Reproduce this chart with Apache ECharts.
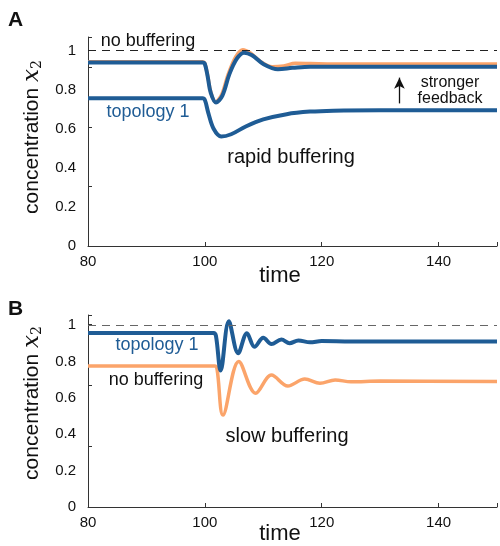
<!DOCTYPE html>
<html>
<head>
<meta charset="utf-8">
<script src="https://cdn.jsdelivr.net/npm/echarts@6/dist/echarts.min.js"></script>
<style>
  html, body { margin: 0; padding: 0; background: #fff; }
  #chart { width: 500px; height: 546px; }
</style>
</head>
<body>
<div id="chart"></div>
<script>
// panel A, rapid buffering: [time, x2]
const rapidNoBuffer = [[80,0.943],[99.6,0.943],[100,0.935],[100.5,0.87],[101,0.79],[101.8,0.738],[102.8,0.77],[104,0.88],[105.3,0.97],[106.5,1.005],[107.8,0.988],[109.5,0.945],[111.5,0.918],[113.5,0.922],[115.5,0.935],[118,0.934],[122,0.932],[130,0.932],[150,0.932]];
const rapidStrong = [[80,0.94],[99.6,0.94],[100,0.932],[100.5,0.865],[101,0.785],[101.9,0.735],[103,0.77],[104.2,0.88],[105.5,0.96],[106.7,0.99],[108,0.978],[110,0.932],[112.5,0.905],[115,0.912],[118,0.918],[125,0.918],[150,0.918]];
const rapidTopology = [[80,0.757],[99.6,0.757],[100,0.748],[100.6,0.68],[101.5,0.6],[102.8,0.56],[104.5,0.572],[107,0.612],[110,0.648],[114,0.675],[118,0.688],[122,0.693],[130,0.695],[150,0.695]];

// panel B, slow buffering
const slowTopology = [[80,0.956],[101.5,0.956],[101.9,0.94],[102.7,0.75],[104.1,1.02],[105.7,0.845],[107.2,0.955],[108.5,0.88],[110,0.93],[111.4,0.895],[113.1,0.92],[114.5,0.9],[116,0.915],[118,0.905],[120,0.912],[125,0.91],[150,0.91]];
const slowNoBuffer = [[80,0.775],[101.7,0.775],[102.1,0.755],[103.1,0.505],[105.8,0.8],[108.7,0.625],[111.4,0.725],[114.2,0.665],[117.1,0.703],[119.7,0.68],[122.3,0.698],[125,0.688],[130,0.692],[150,0.69]];

const xTicks = [80, 100, 120, 140];
const yTicks = [0, 0.2, 0.4, 0.6, 0.8, 1];

const blue = '#1f5c95';
const orange = '#fba46a';
const font = 'Liberation Sans, Helvetica, Arial, sans-serif';

const chart = echarts.init(document.getElementById('chart'), null, { renderer: 'canvas' });

const xAxisFor = (gi) => ({
  type: 'value', gridIndex: gi, min: 80, max: 150, interval: 20,
  axisLine: { lineStyle: { color: '#333', width: 1 } },
  axisTick: { inside: true, length: 4, lineStyle: { color: '#333' } },
  axisLabel: { fontSize: 15, color: '#111', fontFamily: font, margin: 8,
    formatter: v => xTicks.includes(v) ? String(v) : '' },
  splitLine: { show: false }
});

const yAxisFor = (gi, max, shift) => ({
  type: 'value', gridIndex: gi, min: 0, max: max, interval: 0.2,
  name: '{a|concentration }{b|x}{c|2}', nameLocation: 'middle', nameGap: 44,
  nameTextStyle: { fontSize: 21, color: '#111', fontFamily: font, padding: [0, 0, 0, shift],
    rich: {
      a: { fontSize: 21, fontFamily: font, color: '#111' },
      b: { fontSize: 23, fontFamily: 'DejaVu Serif, serif', fontStyle: 'italic', color: '#111' },
      c: { fontSize: 14, fontFamily: 'DejaVu Serif, serif', color: '#111', padding: [9, 0, 0, 0] }
    } },
  axisLine: { show: true, lineStyle: { color: '#333', width: 1 } },
  axisTick: { show: false },
  axisLabel: { fontSize: 15, color: '#111', fontFamily: font, margin: 12,
    formatter: v => yTicks.some(t => Math.abs(t - v) < 1e-6) ? String(+v.toFixed(1)) : '' },
  splitLine: { show: false }
});

// the original figure has tick marks off the label positions
const tickAxisFor = (gi, max, step) => ({
  type: 'value', gridIndex: gi, min: 0, max: max, interval: step, position: 'left',
  axisLine: { show: false }, axisLabel: { show: false }, splitLine: { show: false },
  axisTick: { show: true, inside: true, length: 4, lineStyle: { color: '#333' } }
});

const lineSeries = (data, color, xi, width) => ({
  type: 'line', xAxisIndex: xi, yAxisIndex: xi * 2, data: data,
  showSymbol: false, smooth: 0.35,
  lineStyle: { color: color, width: width }, z: 3
});

const refLine = (xi, color) => ({
  type: 'line', xAxisIndex: xi, yAxisIndex: xi * 2, data: [],
  markLine: { silent: true, symbol: 'none', label: { show: false },
    lineStyle: { type: [8, 6], color: color, width: 1 },
    data: [{ yAxis: 1 }] }
});

const txt = (x, y, text, size, color) => ({
  type: 'text', x: x, y: y,
  style: { text: text, font: size + 'px ' + font, fill: color || '#111', align: 'center', verticalAlign: 'middle', lineHeight: 16 }
});

const option = {
  animation: false,
  grid: [
    { left: 88, right: 2, top: 37, bottom: 300 },
    { left: 88, right: 2, top: 315, bottom: 39 }
  ],
  xAxis: [xAxisFor(0), xAxisFor(1)],
  yAxis: [yAxisFor(0, 1.07, 9), tickAxisFor(0, 1.07, 0.305), yAxisFor(1, 1.055, 16), tickAxisFor(1, 1.055, 0.335)],
  series: [
    refLine(0, '#222'),
    lineSeries(rapidNoBuffer, orange, 0, 3.5),
    lineSeries(rapidStrong, blue, 0, 4),
    lineSeries(rapidTopology, blue, 0, 4),
    {
      type: 'line', xAxisIndex: 0, yAxisIndex: 0, data: [],
      markLine: { silent: true, symbol: ['none', 'arrow'], symbolSize: [8, 11], label: { show: false },
        lineStyle: { type: 'solid', color: '#111', width: 1.3 },
        data: [[{ coord: [133.3, 0.73] }, { coord: [133.3, 0.862] }]] }
    },
    refLine(1, '#666'),
    lineSeries(slowNoBuffer, orange, 1, 3.5),
    lineSeries(slowTopology, blue, 1, 4)
  ],
  graphic: [
    { type: 'text', left: 8, top: 10, style: { text: 'A', font: 'bold 21px ' + font, fill: '#111' } },
    { type: 'text', left: 8, top: 299, style: { text: 'B', font: 'bold 21px ' + font, fill: '#111' } },
    txt(148, 41, 'no buffering', 18),
    txt(148, 112, 'topology 1', 18, blue),
    txt(291, 157, 'rapid buffering', 20),
    txt(450, 83, 'stronger', 16),
    txt(450, 99, 'feedback', 16),
    txt(280, 276, 'time', 22),
    txt(157, 345, 'topology 1', 18, blue),
    txt(156, 380, 'no buffering', 18),
    txt(287, 436, 'slow buffering', 20),
    txt(280, 534, 'time', 22)
  ]
};

chart.setOption(option);
window.addEventListener('resize', chart.resize);
</script>
</body>
</html>
